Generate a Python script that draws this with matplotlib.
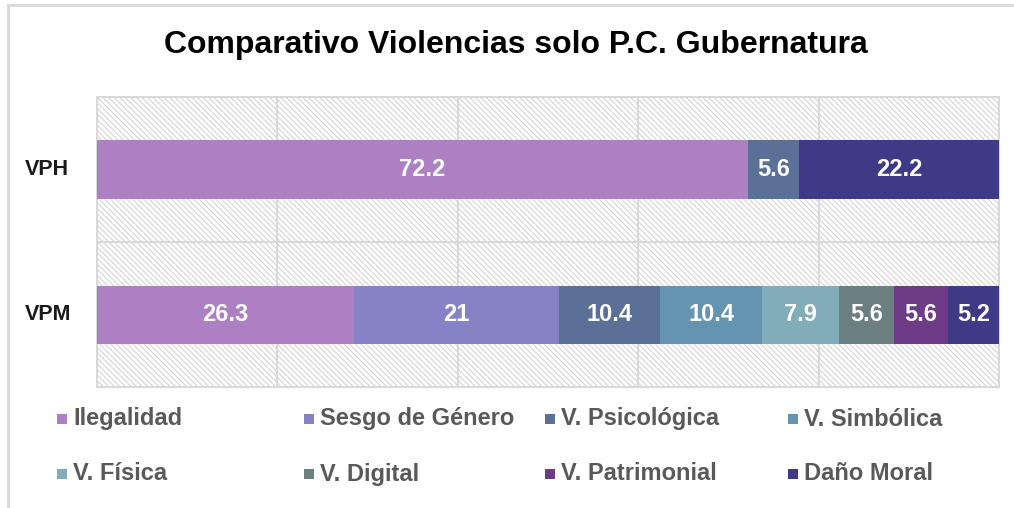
import matplotlib
matplotlib.use("Agg")
import matplotlib.pyplot as plt
from matplotlib.patches import Rectangle
from matplotlib.lines import Line2D
import matplotlib.transforms as mtransforms
import numpy as np

categories = ["VPM", "VPH"]
series_names = ["Ilegalidad", "Sesgo de Género", "V. Psicológica", "V. Simbólica",
                "V. Física", "V. Digital", "V. Patrimonial", "Daño Moral"]
vpm_values = [26.3, 21, 10.4, 10.4, 7.9, 5.6, 5.6, 5.2]
vph_values = [72.2, 0, 5.6, 0, 0, 0, 0, 22.2]
colors = ["#AD80C4", "#8583C5", "#5B7096", "#6494AF",
          "#80ADB7", "#6B7E80", "#6E3B87", "#3F3A85"]

plt.rcParams['font.family'] = ['Liberation Sans', 'DejaVu Sans']
plt.rcParams['hatch.color'] = '#d4d4d4'
plt.rcParams['hatch.linewidth'] = 0.8

fig = plt.figure(figsize=(10.14, 5.08), dpi=100)
ax = fig.add_axes([97/1014, 1-387/508, (999-97)/1014, (387-97)/508])

data = np.array([vpm_values, vph_values])  # rows: categories
totals = data.sum(axis=1)
pct = data / totals[:, None] * 100
y = np.arange(len(categories))

# hatched background
ax.add_patch(Rectangle((0, 0), 1, 1, transform=ax.transAxes, facecolor='white',
                       edgecolor='#d4d4d4', hatch='\\\\\\\\\\\\', lw=0, zorder=0))

left = np.zeros(len(categories))
for j, name in enumerate(series_names):
    w = pct[:, j]
    ax.barh(y, w, left=left, height=0.4, color=colors[j], label=name, zorder=3)
    for i in range(len(categories)):
        if data[i, j] > 0:
            v = data[i, j]
            ax.text(left[i] + w[i] / 2, y[i], f"{v:g}", ha='center', va='center',
                    color='white', fontsize=17, fontweight='bold', zorder=4)
    left += w

ax.set_xlim(0, 100)
ax.set_ylim(-0.5, 1.5)
ax.set_xticks([0, 20, 40, 60, 80, 100])
ax.set_xticklabels([])
ax.tick_params(axis='both', length=0)
ax.set_yticks(y)
ax.set_yticklabels([])
trans = mtransforms.blended_transform_factory(fig.transFigure, ax.transData)
for i, cat in enumerate(categories):
    fig.text(25/1014, 0, cat, transform=trans, ha='left', va='center',
             fontsize=15.5, fontweight='bold', color='#1a1a1a').set_y(y[i])
ax.grid(axis='x', color='#d9d9d9', lw=1.5, zorder=1)
ax.axhline(0.5, color='#d9d9d9', lw=1.5, zorder=1)
for s in ax.spines.values():
    s.set_color('#d9d9d9')
    s.set_linewidth(1.5)

fig.text(516/1014, 1-45/508, "Comparativo Violencias solo P.C. Gubernatura",
         ha='center', va='center', fontsize=23, fontweight='bold', color='black')

# legend (manual layout: 4 equal columns, 2 rows)
col_x = [57, 304, 545, 788]
row_y = [419, 474]
for k, name in enumerate(series_names):
    r, c = divmod(k, 4)
    x0 = col_x[c]
    yc = row_y[r]
    fig.add_artist(Rectangle((x0/1014, 1-(yc+5)/508), 10/1014, 10/508,
                             transform=fig.transFigure, facecolor=colors[k], edgecolor='none'))
    fig.text((x0+16)/1014, 1-yc/508, name, ha='left', va='center', fontsize=17,
             fontweight='bold', color='#595959')

# outer frame lines
fig.add_artist(Line2D([8/1014, 8/1014], [0, 1-5/508], transform=fig.transFigure,
                      color='#d9d9d9', lw=2))
fig.add_artist(Line2D([8/1014, 1], [1-5/508, 1-5/508], transform=fig.transFigure,
                      color='#d9d9d9', lw=2))

fig.savefig("out.png", dpi=100)
